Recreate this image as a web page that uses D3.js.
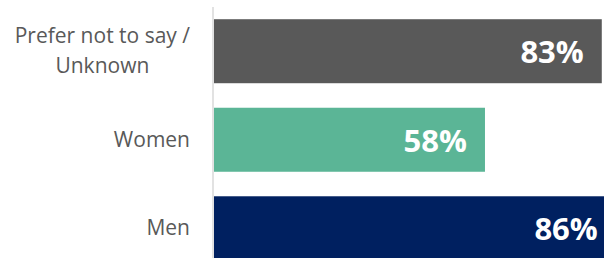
<!DOCTYPE html>
<html>
<head>
<meta charset="utf-8">
<script src="https://cdn.jsdelivr.net/npm/d3@7"></script>
<style>
  html, body { margin: 0; padding: 0; background: #fff; overflow: hidden; }
  svg { display: block; }
</style>
</head>
<body>
<script>
const categories = ['Prefer not to say /\nUnknown', 'Women', 'Men'];
const values = [83, 58, 86];
const colors = ['#595959', '#5bb596', '#002060'];

const width = 604, height = 258;
const margin = {top: 7, left: 214};

const svg = d3.select('body').append('svg')
  .attr('width', width)
  .attr('height', height);

const x = d3.scaleLinear()
  .domain([0, 100])
  .range([margin.left, margin.left + 467.2]);

const y = d3.scaleBand()
  .domain(categories)
  .range([margin.top, margin.top + 3 * 88.5])
  .paddingInner(0.277)
  .paddingOuter(0.138);

const series = categories.map((c, i) => ({cat: c, value: values[i], color: colors[i]}));

// bars
svg.append('g')
  .selectAll('rect')
  .data(series)
  .enter().append('rect')
  .attr('x', x(0))
  .attr('y', (d) => y(d.cat))
  .attr('width', (d) => x(d.value) - x(0))
  .attr('height', y.bandwidth())
  .attr('fill', (d) => d.color);

// vertical axis line
svg.append('line')
  .attr('x1', x(0) - 1).attr('x2', x(0) - 1)
  .attr('y1', y.range()[0]).attr('y2', y.range()[1])
  .attr('stroke', '#d9d9d9')
  .attr('stroke-width', 1.5);

// category labels
const labels = svg.append('g')
  .style('font-family', '"Open Sans", sans-serif')
  .style('font-size', '21px')
  .attr('fill', '#595959');

series.forEach((d) => {
  const lines = d.cat.split('\n');
  const cy = y(d.cat) + y.bandwidth() / 2;
  const t = labels.append('text')
    .attr('text-anchor', 'middle');
  lines.forEach((l, i) => {
    t.append('tspan')
      .attr('y', cy + 7 + (i - (lines.length - 1) / 2) * 30)
      .text(l);
  });
  // right edge of the widest line sits at 190
  const w = d3.max(t.selectAll('tspan').nodes(), (n) => n.getComputedTextLength());
  t.selectAll('tspan').attr('x', 190 - w / 2);
});

// value labels
svg.append('g')
  .selectAll('text')
  .data(series)
  .enter().append('text')
  .attr('x', (d) => x(d.value) - 18)
  .attr('y', (d) => y(d.cat) + y.bandwidth() / 2 + 12)
  .attr('text-anchor', 'end')
  .style('font-family', '"Open Sans", sans-serif')
  .style('font-size', '31px')
  .style('font-weight', 'bold')
  .attr('fill', '#fff')
  .text((d) => d.value + '%');
</script>
</body>
</html>
